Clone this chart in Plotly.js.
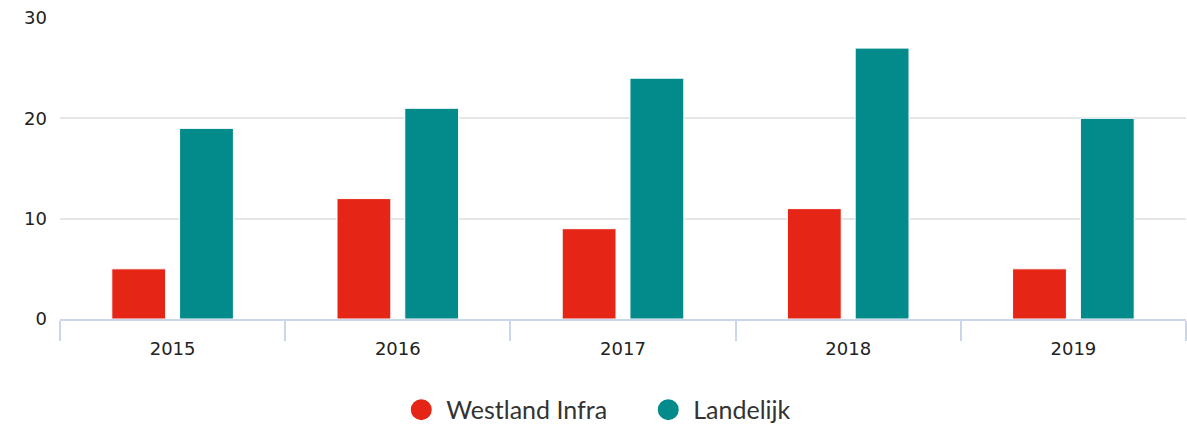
<!DOCTYPE html>
<html><head><meta charset="utf-8">
<script src="https://cdn.plot.ly/plotly-3.0.1.min.js"></script>
<style>html,body{margin:0;padding:0;background:#fff}#chart{width:1187px;height:428px}</style>
</head><body><div id="chart"></div>
<script>
const years = ['2015','2016','2017','2018','2019'];
const westland = [5, 12, 9, 11, 5];
const landelijk = [19, 21, 24, 27, 20];
const seriesNames = ['Westland Infra', 'Landelijk'];
const colors = ['#e52516', '#038a8a'];

const traces = [
  {type:'bar', x: years, y: westland, name: seriesNames[0], marker:{color:colors[0], line:{color:'#ffffff', width:1}}, showlegend:false, hoverinfo:'x+y'},
  {type:'bar', x: years, y: landelijk, name: seriesNames[1], marker:{color:colors[1], line:{color:'#ffffff', width:1}}, showlegend:false, hoverinfo:'x+y'},
  {type:'scatter', mode:'markers', x:[null], y:[null], name: seriesNames[0], marker:{symbol:'circle', size:22, color:colors[0], line:{color:colors[0], width:5}}, showlegend:true},
  {type:'scatter', mode:'markers', x:[null], y:[null], name: seriesNames[1], marker:{symbol:'circle', size:22, color:colors[1], line:{color:colors[1], width:5}}, showlegend:true}
];

const layout = {
  width:1187, height:428,
  margin:{l:60, r:1, t:18, b:109, autoexpand:false},
  paper_bgcolor:'#fff', plot_bgcolor:'#fff',
  barmode:'group', bargap:0.398, bargroupgap:0.206,
  font:{family:'DejaVu Sans, sans-serif', size:18, color:'#222'},
  xaxis:{type:'category', tickson:'boundaries', ticks:'outside', ticklen:20, tickwidth:2, tickcolor:'#ccd6eb',
    showline:true, linecolor:'#ccd6eb', linewidth:2, showgrid:false, zeroline:false, ticklabelstandoff:12,
    tickfont:{family:'DejaVu Sans, sans-serif', size:18, color:'#222'}},
  yaxis:{range:[0,30], tickvals:[0,10,20,30], showgrid:true, gridcolor:'#e6e6e6', gridwidth:2,
    zeroline:false, showline:false, ticks:'', ticklabelstandoff:12,
    tickfont:{family:'DejaVu Sans, sans-serif', size:18, color:'#222'}},
  showlegend:true,
  legend:{orientation:'h', x:0.518, xanchor:'center', y:-0.302, yanchor:'middle',
    font:{family:'Lato, sans-serif', size:25, color:'#333'}, itemsizing:'trace', itemwidth:40, entrywidth:192, traceorder:'normal'}
};
Plotly.newPlot('chart', traces, layout, {displayModeBar:false, staticPlot:true});
</script></body></html>
